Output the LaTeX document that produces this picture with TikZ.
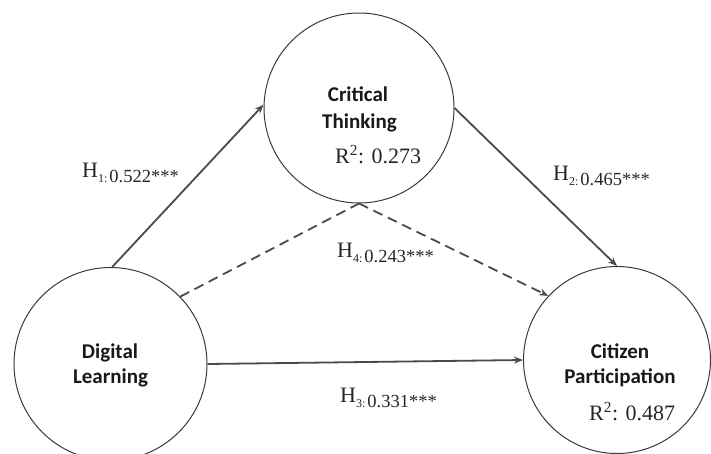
\documentclass[tikz,border=0pt]{standalone}
\usepackage{fontspec}
\setmainfont{Liberation Serif}
\newfontfamily\titlefont{Carlito}
\usetikzlibrary{arrows.meta}
\definecolor{linegray}{HTML}{4A4A4A}
\definecolor{circgray}{HTML}{3A3A3A}
\newcommand{\hlab}[2]{{\fontsize{22}{22}\selectfont H}\raisebox{-5.5pt}{\fontsize{12}{12}\selectfont #1:}\hspace{2pt}\raisebox{-5.5pt}{\fontsize{18.5}{18.5}\selectfont #2***}}
\newcommand{\rsq}[1]{\fontsize{22}{22}\selectfont R\textsuperscript{2}: #1}
\begin{document}
\begin{tikzpicture}[x=1pt,y=-1pt,
  construct/.style={circle,draw=circgray,line width=1pt,inner sep=0pt,fill=white},
  title/.style={anchor=base,inner sep=0pt,font=\titlefont\bfseries\fontsize{21}{21}\selectfont,text=black!90},
  lab/.style={anchor=base west,inner sep=0pt,text=black!85},
  path/.style={draw=linegray,line width=1.8pt,-{Stealth[length=9pt,width=7pt]}},
  dpath/.style={draw=linegray,line width=1.8pt,dash pattern=on 10pt off 6pt}]
\useasboundingbox (0,0) rectangle (711,453);
% constructs
\node[construct,minimum size=190pt] (CT) at (359,108) {};
\node[construct,minimum size=193pt] (DL) at (110.5,364) {};
\node[construct,minimum size=187pt] (CP) at (617,360) {};
% titles
\node[title] (ct1) at (358,101) {Critical};
\node[title] (ct2) at (359.5,128) {Thinking};
\node[title] (dl1) at (110,358) {Digital};
\node[title] (dl2) at (110.5,383) {Learning};
\node[title] (cp1) at (620,358) {Citizen};
\node[title] (cp2) at (620,383) {Participation};
% R squared
\node[lab] (rct) at (335,163) {\rsq{0.273}};
\node[lab] (rcp) at (589,420) {\rsq{0.487}};
% connectors
\draw[path] (DL.89) -- (CT.178);
\draw[path] (CT.0) -- (CP.90);
\draw[path] (DL.0) -- (CP.180);
\draw[dpath] (DL.44) -- (CT.270);
\draw[dpath,-{Stealth[length=9pt,width=7pt]}] (CT.270) -- (CP.137);
% path labels
\node[lab] (h1) at (82,177) {\hlab{1}{0.522}};
\node[lab] (h2) at (553,180) {\hlab{2}{0.465}};
\node[lab] (h4) at (337,257) {\hlab{4}{0.243}};
\node[lab] (h3) at (340,402) {\hlab{3}{0.331}};
\end{tikzpicture}
\end{document}
